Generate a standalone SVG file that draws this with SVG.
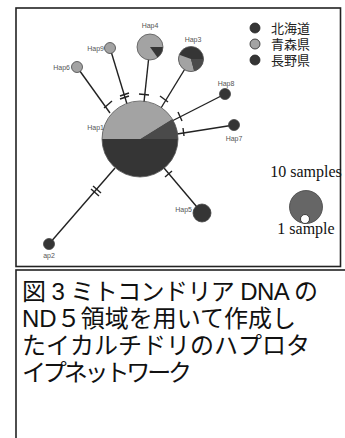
<svg xmlns="http://www.w3.org/2000/svg" width="345" height="438" viewBox="0 0 345 438">
<style>
.box{fill:#fff;stroke:#222;stroke-width:1.6}
.edge{stroke:#222;stroke-width:1.4;fill:none}
.tick{stroke:#222;stroke-width:1.4}
.lab{font-family:"Liberation Sans",Arial,sans-serif;font-size:7px;fill:#555}
.lg{fill:#666;stroke:#444;stroke-width:0.8}
.nd{stroke:#444;stroke-width:0.8}
.hk{fill:#353535}
.am{fill:#a3a3a3}
.ng{fill:#4a4a4a}
.leg{font-family:"Noto Sans CJK JP",sans-serif;font-size:13px;fill:#222}
.smp{font-family:"Liberation Serif","Times New Roman",serif;font-size:16px;fill:#111}
.cap{font-family:"Liberation Sans","Noto Sans CJK JP",sans-serif;font-size:24px;fill:#111}
</style>
<rect class="box" x="16" y="8" width="324.5" height="258.5"/>
<rect class="box" x="16" y="270" width="340" height="180"/>
<g id="connectors">
<line class="edge" x1="110" y1="113" x2="77" y2="67"/>
<line class="edge" x1="127" y1="104" x2="110" y2="48"/>
<line class="edge" x1="144" y1="102" x2="150" y2="46"/>
<line class="edge" x1="161" y1="108" x2="191" y2="59"/>
<line class="edge" x1="172" y1="121" x2="225" y2="94"/>
<line class="edge" x1="177" y1="134" x2="234" y2="125"/>
<line class="edge" x1="164" y1="168" x2="202" y2="213"/>
<line class="edge" x1="115" y1="168" x2="49" y2="244"/>
<line class="tick" x1="104" y1="108" x2="112" y2="101"/>
<line class="tick" x1="120" y1="99" x2="129" y2="96"/>
<line class="tick" x1="120" y1="96" x2="129" y2="93"/>
<line class="tick" x1="139" y1="94" x2="149" y2="95"/>
<line class="tick" x1="160" y1="96" x2="168" y2="102"/>
<line class="tick" x1="178" y1="112" x2="182" y2="121"/>
<line class="tick" x1="183" y1="128" x2="184" y2="136"/>
<line class="tick" x1="165" y1="177" x2="172" y2="171"/>
<line class="tick" x1="91" y1="189" x2="99" y2="196"/>
<line class="tick" x1="93" y1="186" x2="101" y2="193"/>
</g>
<g id="Hap1">
<path class="hk" d="M102,139 A38,38 0 0 0 178,139 Z"/>
<path class="am" d="M140,139 L102,139 A38,38 0 0 1 172.2,119 Z"/>
<path class="ng" d="M140,139 L172.2,119 A38,38 0 0 1 178,139 Z"/>
<circle cx="140" cy="139" r="38" fill="none" stroke="#555" stroke-width="0.8"/>
<text class="lab" x="104" y="130" text-anchor="end">Hap1</text>
</g>
<g id="Hap4">
<circle class="am" cx="150" cy="47" r="13"/>
<path class="hk" d="M150,47 L163,47 A13,13 0 0 1 157.5,57.6 Z"/>
<circle cx="150" cy="47" r="13" fill="none" stroke="#555" stroke-width="0.8"/>
<text class="lab" x="150" y="28" text-anchor="middle">Hap4</text>
</g>
<g id="Hap3">
<circle class="hk" cx="191" cy="59" r="12.5"/>
<path class="am" d="M191,59 L194.2,71.1 A12.5,12.5 0 0 1 179.3,54.7 Z"/>
<path class="ng" d="M191,59 L203.5,59 A12.5,12.5 0 0 1 194.2,71.1 Z"/>
<circle cx="191" cy="59" r="12.5" fill="none" stroke="#555" stroke-width="0.8"/>
<text class="lab" x="193" y="42" text-anchor="middle">Hap3</text>
</g>
<g id="Hap9">
<circle class="am nd" cx="110" cy="48" r="5.5"/>
<text class="lab" x="104" y="51" text-anchor="end">Hap9</text>
</g>
<g id="Hap6">
<circle class="am nd" cx="77" cy="67" r="5.5"/>
<text class="lab" x="70" y="70" text-anchor="end">Hap6</text>
</g>
<g id="Hap8">
<circle class="hk nd" cx="225" cy="94" r="5.5"/>
<text class="lab" x="226" y="86" text-anchor="middle">Hap8</text>
</g>
<g id="Hap7">
<circle class="hk nd" cx="234" cy="125" r="5.5"/>
<text class="lab" x="234" y="141" text-anchor="middle">Hap7</text>
</g>
<g id="Hap5">
<circle class="hk nd" cx="202" cy="213" r="9"/>
<text class="lab" x="192" y="212" text-anchor="end">Hap5</text>
</g>
<g id="Hap2">
<circle class="hk nd" cx="49" cy="244" r="5.5"/>
<text class="lab" x="49" y="258" text-anchor="middle">ap2</text>
</g>
<g id="legend">
<circle class="hk" cx="255" cy="28" r="5" stroke="#222" stroke-width="0.8"/>
<circle class="am" cx="255" cy="44" r="5" stroke="#222" stroke-width="0.8"/>
<circle class="hk" cx="255" cy="60" r="5" stroke="#222" stroke-width="0.8"/>
<text class="leg" x="271" y="33">北海道</text>
<text class="leg" x="271" y="49">青森県</text>
<text class="leg" x="271" y="65">長野県</text>
<text class="smp" x="306" y="177" text-anchor="middle">10 samples</text>
<circle class="lg" cx="306" cy="207" r="16.5" stroke="#222"/>
<circle cx="305" cy="219" r="4.5" fill="#fff" stroke="#222" stroke-width="0.8"/>
<text class="smp" x="306" y="234" text-anchor="middle">1 sample</text>
</g>
<g id="caption">
<text class="cap" x="22" y="300" textLength="296" lengthAdjust="spacing">図 3 ミトコンドリア DNA の</text>
<text class="cap" x="22" y="327">ND５領域を用いて作成し</text>
<text class="cap" x="22" y="354">たイカルチドリのハプロタ</text>
<text class="cap" x="22" y="381" textLength="170" lengthAdjust="spacing">イプネットワーク</text>
</g>
</svg>
